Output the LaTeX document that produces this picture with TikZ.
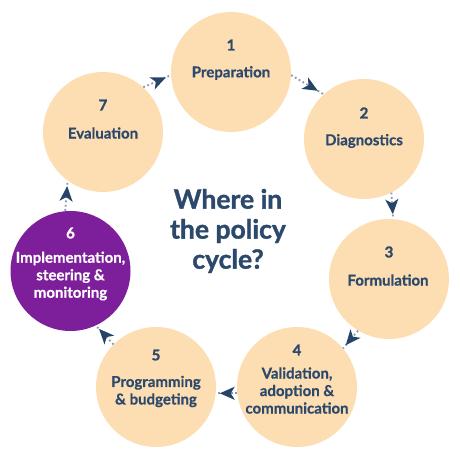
\documentclass[tikz,border=0pt]{standalone}
\usepackage{fontspec}
\setmainfont{Lato}
\newfontfamily\labfam{Lato}[BoldFeatures={FakeBold=0.6}]
\newfontfamily\titlefam{Lato}[BoldFeatures={FakeBold=1.4}]
\usetikzlibrary{arrows.meta,decorations.markings}
\definecolor{peach}{RGB}{253,222,178}
\definecolor{purp}{RGB}{125,30,155}
\definecolor{navy}{RGB}{44,73,108}
\definecolor{arrc}{RGB}{38,68,104}
\definecolor{dotc}{RGB}{136,152,174}
\tikzset{
  circ/.style={circle, minimum size=120pt, inner sep=0pt, fill=peach},
  circp/.style={circ, fill=purp},
  numtxt/.style={inner sep=0pt, text=navy, font=\titlefam\fontsize{15}{16}\selectfont\bfseries},
  labtxt/.style={inner sep=0pt, align=center, text=navy, font=\labfam\fontsize{15}{17.5}\selectfont\bfseries},
  conn/.style={draw=dotc, line width=1.8pt, dash pattern=on 1.8pt off 2.6pt,
    postaction={decorate, decoration={markings, mark=at position 0.82 with
      {\arrow{Stealth[length=15pt,width=13pt,inset=4pt,color=arrc]}}}}},
  titletxt/.style={inner sep=0pt, align=center, text=navy, font=\titlefam\fontsize{26.5}{30}\selectfont\bfseries}
}
\begin{document}
\begin{tikzpicture}[x=1pt,y=-1pt]
\useasboundingbox (0,0) rectangle (460,460);
\node[circ]  (c1) at (231,72) {};
\node[circ]  (c2) at (364,139) {};
\node[circ]  (c3) at (389,279) {};
\node[circ]  (c4) at (297,387) {};
\node[circ]  (c5) at (156,387) {};
\node[circp] (c6) at (70.5,271) {};
\node[circ]  (c7) at (103,132) {};
% texts
\node[numtxt] (n1) at (231,45) {1};
\node[labtxt] (l1) at (231,73) {Preparation};
\node[numtxt] (n2) at (364,113) {2};
\node[labtxt] (l2) at (364,141) {Diagnostics};
\node[numtxt] (n3) at (389,252) {3};
\node[labtxt] (l3) at (388,280) {Formulation};
\node[numtxt] (n4) at (297,350) {4};
\node[labtxt] (l4) at (297,390.5) {Validation,\\adoption \&\\communication};
\node[numtxt] (n5) at (156,355) {5};
\node[labtxt] (l5) at (156,391.5) {Programming\\\& budgeting};
\node[numtxt,text=white] (n6) at (70.5,233) {6};
\node[labtxt,text=white] (l6) at (70.5,276) {Implementation,\\steering \&\\monitoring};
\node[numtxt] (n7) at (103,105) {7};
\node[labtxt] (l7) at (103,133) {Evaluation};
\node[titletxt] (t) at (228,231) {Where in\\the policy\\cycle?};
% connectors
\draw[conn] (c7.48) -- (c1.183);
\draw[conn] (c1.-3) -- (c2.132);
\draw[conn] (c2.-63) -- (c3.86);
\draw[conn] (c3.-121) -- (c4.40);
\draw[conn] (c4.-174) -- (c5.-6);
\draw[conn] (c5.135) -- (c6.-65);
\draw[conn] (c6.95) -- (c7.-126);
\end{tikzpicture}
\end{document}
